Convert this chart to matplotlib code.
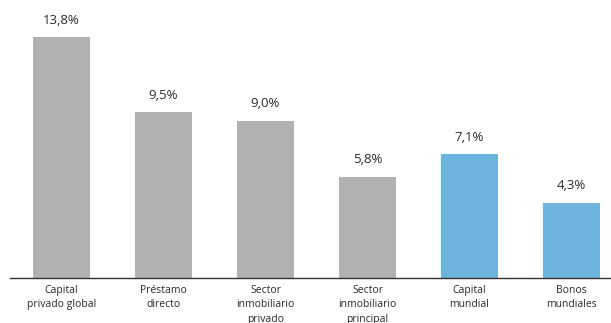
import matplotlib
matplotlib.use("Agg")
import matplotlib.pyplot as plt
import numpy as np

plt.rcParams['font.family'] = ['Open Sans', 'DejaVu Sans']

categorias = ["Capital\nprivado global", "Préstamo\ndirecto", "Sector\ninmobiliario\nprivado",
              "Sector\ninmobiliario\nprincipal", "Capital\nmundial", "Bonos\nmundiales"]
rentabilidad = [13.8, 9.5, 9.0, 5.8, 7.1, 4.3]
etiquetas = ["13,8%", "9,5%", "9,0%", "5,8%", "7,1%", "4,3%"]
colores = ["#b1b1b1", "#b1b1b1", "#b1b1b1", "#b1b1b1", "#6db5de", "#6db5de"]

fig = plt.figure(figsize=(6.11, 3.23), dpi=100)
ax = fig.add_axes([10/611, 45/323, 601/611, 278/323])

x = np.arange(len(categorias))
barras = ax.bar(x, rentabilidad, width=0.56, color=colores)

for b, txt in zip(barras, etiquetas):
    ax.annotate(txt, (b.get_x() + b.get_width()/2, b.get_height()),
                xytext=(0, 7.5), textcoords="offset points",
                ha="center", va="bottom", fontsize=9.5, color="#2a2a2a")

ax.set_xlim(-0.505, 5.387)
ax.set_ylim(0, 15.92)
ax.set_xticks(x)
# third line of the long labels runs off the bottom edge on purpose
ax.set_xticklabels(categorias, fontsize=7.5, color="#2a2a2a", linespacing=1.42)
ax.tick_params(axis="x", length=0, pad=5)
ax.set_yticks([])
for s in ["top", "right", "left"]:
    ax.spines[s].set_visible(False)
ax.spines["bottom"].set_color("#333333")
ax.spines["bottom"].set_linewidth(1)

fig.savefig("out.png", dpi=100)
